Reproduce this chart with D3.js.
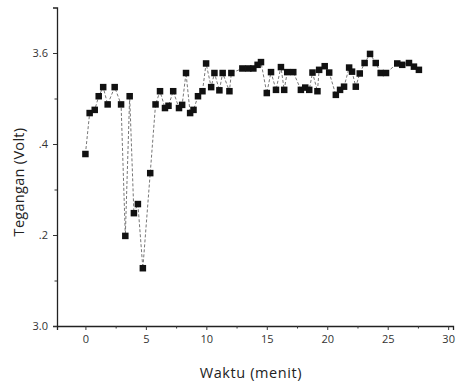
<!DOCTYPE html>
<html>
<head>
<meta charset="utf-8">
<script src="https://cdn.jsdelivr.net/npm/d3@7"></script>
<style>
  html, body { margin: 0; padding: 0; background: #fff; }
  svg { display: block; }
  text { font-family: "Open Sans", "DejaVu Sans", sans-serif; fill: #222; }
</style>
</head>
<body>
<svg id="chart" width="459" height="385"></svg>
<script>
// Time (minutes)
const waktu = [0.0, 0.35, 0.77, 1.10, 1.47, 1.84, 2.42, 2.95, 3.30, 3.66,
  4.01, 4.34, 4.75, 5.36, 5.80, 6.17, 6.58, 6.87, 7.26, 7.74,
  8.00, 8.32, 8.66, 8.94, 9.31, 9.68, 9.98, 10.40, 10.67, 11.08,
  11.35, 11.91, 12.07, 12.98, 13.47, 13.89, 14.24, 14.52, 15.00, 15.35,
  15.76, 16.17, 16.44, 16.69, 17.19, 17.82, 18.18, 18.51, 18.78, 19.19,
  19.33, 19.79, 20.16, 20.71, 21.06, 21.39, 21.81, 22.05, 22.36, 22.69,
  23.09, 23.54, 24.01, 24.42, 24.86, 25.79, 26.20, 26.76, 27.17, 27.58];
// Voltage (Volt)
const tegangan = [3.378, 3.468, 3.475, 3.505, 3.525, 3.487, 3.525, 3.487, 3.198, 3.505,
  3.248, 3.268, 3.127, 3.336, 3.487, 3.516, 3.479, 3.484, 3.516, 3.479,
  3.486, 3.556, 3.468, 3.475, 3.505, 3.516, 3.577, 3.525, 3.556, 3.518,
  3.556, 3.516, 3.556, 3.566, 3.566, 3.566, 3.574, 3.580, 3.512, 3.558,
  3.519, 3.569, 3.519, 3.558, 3.558, 3.519, 3.524, 3.519, 3.557, 3.516,
  3.563, 3.571, 3.557, 3.508, 3.519, 3.526, 3.568, 3.559, 3.526, 3.555,
  3.578, 3.598, 3.578, 3.556, 3.556, 3.577, 3.574, 3.578, 3.570, 3.563];

const xMajorTicks = [0, 5, 10, 15, 20, 25, 30];
const xMinorTicks = [2.5, 7.5, 12.5, 17.5, 22.5, 27.5];
const yMajorTicks = [3.0, 3.2, 3.4, 3.6];
const yTickLabels = ["3.0", ".2", ".4", "3.6"];
const yMinorTicks = [3.1, 3.3, 3.5];

const data = waktu.map((t, i) => ({ t, v: tegangan[i] }));

const svg = d3.select("#chart");
const x = d3.scaleLinear().domain([-2.35, 30.4]).range([57, 453]);
const y = d3.scaleLinear().domain([3.0, 3.7]).range([326, 7.5]);

// Dashed connecting line
svg.append("path")
  .datum(data)
  .attr("fill", "none")
  .attr("stroke", "#777")
  .attr("stroke-width", 1)
  .attr("stroke-dasharray", "3,2")
  .attr("d", d3.line().x(d => x(d.t)).y(d => y(d.v)));

// Square markers
const s = 6.5;
svg.append("g").selectAll("rect")
  .data(data).enter().append("rect")
  .attr("x", d => x(d.t) - s / 2)
  .attr("y", d => y(d.v) - s / 2)
  .attr("width", s).attr("height", s)
  .attr("fill", "#111");

// X axis
svg.append("g").attr("transform", `translate(0,${y(3.0)})`)
  .call(d3.axisBottom(x).tickValues(xMajorTicks).tickFormat(d3.format("d")).tickSize(4).tickPadding(5));
svg.append("g").attr("transform", `translate(0,${y(3.0)})`)
  .call(d3.axisBottom(x).tickValues(xMinorTicks).tickFormat("").tickSize(2.5))
  .select(".domain").remove();

// Y axis
svg.append("g").attr("transform", `translate(${x(-2.35)},0)`)
  .call(d3.axisLeft(y).tickValues(yMajorTicks).tickFormat((d, i) => yTickLabels[i]).tickSize(4).tickPadding(5));
svg.append("g").attr("transform", `translate(${x(-2.35)},0)`)
  .call(d3.axisLeft(y).tickValues(yMinorTicks).tickFormat("").tickSize(2.5))
  .select(".domain").remove();

svg.selectAll(".domain").attr("stroke", "#222").attr("stroke-width", 1.3);
svg.selectAll(".tick line").attr("stroke", "#333").attr("stroke-width", 1);
svg.selectAll(".tick text").style("font-size", "11px").style("fill", "#333")
  .style("font-family", "'Open Sans', sans-serif");

// Axis titles
svg.append("text")
  .attr("x", 251).attr("y", 378)
  .attr("text-anchor", "middle")
  .style("font-size", "14.5px")
  .style("letter-spacing", "0.6px")
  .text("Waktu (menit)");

svg.append("text")
  .attr("transform", `translate(24,182) rotate(-90)`)
  .attr("text-anchor", "middle")
  .style("font-size", "14.5px")
  .style("letter-spacing", "0.3px")
  .text("Tegangan (Volt)");
</script>
</body>
</html>
